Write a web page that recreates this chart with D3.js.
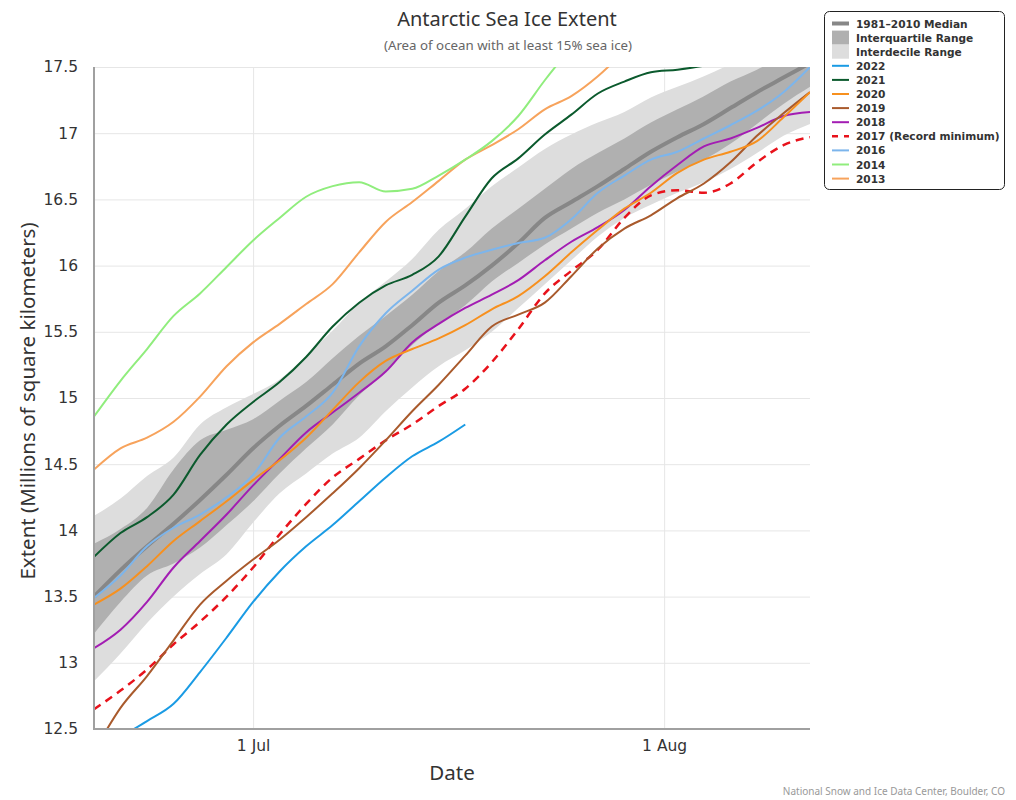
<!DOCTYPE html>
<html><head><meta charset="utf-8">
<script src="https://cdn.jsdelivr.net/npm/d3@7"></script>
<style>
body{margin:0;background:#fff;}
svg{display:block;}
</style></head>
<body>
<svg id="chart" width="1016" height="800"></svg>
<script>
// Day offsets from 19 June (every 2 days)
const dayOffsets = [0,2,4,6,8,10,12,14,16,18,20,22,24,26,28,30,32,34,36,38,40,42,44,46,48,50,52,54];
const startDate = "2022-06-19";
const yTicks = [12.5,13,13.5,14,14.5,15,15.5,16,16.5,17,17.5];
const xTickLabels = ["1 Jul","1 Aug"];
const xTickDates = ["2022-07-01","2022-08-01"];

const median = [13.50,13.70,13.88,14.05,14.23,14.42,14.62,14.79,14.94,15.10,15.26,15.39,15.55,15.72,15.85,16.00,16.17,16.36,16.48,16.60,16.73,16.86,16.97,17.07,17.19,17.31,17.42,17.53];
const iqrHigh = [13.90,14.01,14.17,14.46,14.68,14.76,14.84,14.98,15.12,15.30,15.47,15.62,15.78,15.96,16.10,16.28,16.43,16.58,16.73,16.85,16.96,17.08,17.18,17.28,17.39,17.48,17.58,17.66];
const iqrLow  = [13.22,13.46,13.66,13.75,13.87,14.04,14.22,14.43,14.62,14.80,15.02,15.20,15.40,15.56,15.70,15.88,16.02,16.16,16.28,16.40,16.50,16.61,16.71,16.80,16.92,17.07,17.22,17.35];
const idrHigh = [14.11,14.24,14.41,14.55,14.80,14.93,15.03,15.14,15.32,15.51,15.72,15.88,16.05,16.27,16.43,16.60,16.74,16.88,16.99,17.08,17.16,17.27,17.35,17.43,17.52,17.60,17.68,17.75];
const idrLow  = [12.86,13.07,13.30,13.50,13.67,13.82,14.06,14.28,14.43,14.58,14.70,14.90,15.08,15.24,15.36,15.50,15.68,15.86,16.04,16.22,16.36,16.46,16.55,16.63,16.73,16.85,16.98,17.07];

const y2022 = [null,12.44,12.56,12.69,12.93,13.19,13.46,13.69,13.88,14.04,14.22,14.40,14.56,14.67,14.80,null,null,null,null,null,null,null,null,null,null,null,null,null];
const y2021 = [13.80,13.98,14.10,14.27,14.57,14.80,14.97,15.12,15.31,15.54,15.72,15.85,15.93,16.07,16.37,16.66,16.81,16.99,17.14,17.30,17.39,17.46,17.48,17.51,17.56,null,null,null];
const y2020 = [13.44,13.56,13.73,13.92,14.07,14.22,14.38,14.53,14.70,14.91,15.12,15.28,15.37,15.45,15.55,15.67,15.77,15.92,16.10,16.27,16.43,16.55,16.70,16.80,16.86,16.94,17.12,17.31];
const y2019 = [12.33,12.66,12.90,13.17,13.44,13.62,13.78,13.93,14.10,14.28,14.47,14.68,14.90,15.10,15.32,15.54,15.63,15.72,15.92,16.13,16.28,16.38,16.51,16.62,16.78,16.98,17.15,17.31];
const y2018 = [13.11,13.25,13.46,13.72,13.92,14.12,14.34,14.54,14.74,14.89,15.04,15.20,15.42,15.56,15.68,15.78,15.89,16.04,16.18,16.29,16.42,16.60,16.76,16.90,16.96,17.04,17.13,17.16];
const y2017 = [12.65,12.79,12.95,13.14,13.31,13.50,13.72,13.97,14.20,14.40,14.54,14.68,14.80,14.94,15.07,15.27,15.52,15.79,15.96,16.12,16.36,16.53,16.57,16.55,16.62,16.78,16.91,16.97];
const y2016 = [13.49,13.66,13.88,14.02,14.12,14.25,14.42,14.70,14.86,15.04,15.39,15.64,15.81,15.97,16.06,16.12,16.17,16.21,16.35,16.55,16.68,16.80,16.86,16.96,17.06,17.17,17.31,17.50];
const y2014 = [14.86,15.13,15.37,15.62,15.79,15.99,16.19,16.36,16.52,16.60,16.63,16.56,16.58,16.68,16.80,16.94,17.13,17.40,17.65,null,null,null,null,null,null,null,null,null];
const y2013 = [14.46,14.62,14.70,14.82,15.01,15.24,15.42,15.56,15.71,15.86,16.10,16.33,16.48,16.64,16.80,16.91,17.03,17.18,17.28,17.43,17.62,null,null,null,null,null,null,null];

const seriesNames = ["2022","2021","2020","2019","2018","2017 (Record minimum)","2016","2014","2013"];
const seriesValues = [y2022,y2021,y2020,y2019,y2018,y2017,y2016,y2014,y2013];
const seriesColors = ["#1a9be4","#0b5a2d","#f7901e","#a95a2c","#a31db3","#e8121b","#7cb5ec","#90ed7d","#f7a35c"];

const svg = d3.select("#chart");
const m = {left:94, right:810, top:67, bottom:729};
const FONT = "'Noto Sans', sans-serif";
const DV = "'DejaVu Sans', sans-serif";

const t0 = d3.utcParse("%Y-%m-%d")(startDate);
const dateOf = d => d3.utcDay.offset(t0, d);
const x = d3.scaleUtc().domain([dateOf(0), dateOf(54)]).range([m.left, m.right]);
const y = d3.scaleLinear().domain([12.5,17.5]).range([m.bottom, m.top]);

svg.append("defs").append("clipPath").attr("id","plotclip")
  .append("rect").attr("x",m.left).attr("y",m.top).attr("width",m.right-m.left).attr("height",m.bottom-m.top);

// gridlines + tick labels
const yAxis = d3.axisLeft(y).tickValues(yTicks).tickSize(-(m.right-m.left)).tickFormat(d3.format("~g"));
const gy = svg.append("g").attr("transform",`translate(${m.left},0)`).call(yAxis);
gy.select(".domain").remove();
gy.selectAll(".tick line").attr("stroke","#e6e6e6").attr("stroke-width",1);
gy.selectAll(".tick text").attr("x",-16).attr("fill","#333").style("font-family",DV).style("font-size","15.5px");

const xDates = xTickDates.map(s => d3.utcParse("%Y-%m-%d")(s));
const xAxis = d3.axisBottom(x).tickValues(xDates).tickSize(-(m.bottom-m.top)).tickFormat((d,i)=>xTickLabels[i]);
const gx = svg.append("g").attr("transform",`translate(0,${m.bottom})`).call(xAxis);
gx.select(".domain").remove();
gx.selectAll(".tick line").attr("stroke","#e6e6e6").attr("stroke-width",1);
gx.selectAll(".tick text").attr("y",11).attr("fill","#333").style("font-family",DV).style("font-size","15.5px");

const plot = svg.append("g").attr("clip-path","url(#plotclip)");

const idx = dayOffsets.map((d,i)=>i);
const area = (lo, hi) => d3.area().x(i=>x(dateOf(dayOffsets[i]))).y0(i=>y(lo[i])).y1(i=>y(hi[i])).curve(d3.curveMonotoneX);
plot.append("path").datum(idx).attr("d",area(idrLow,idrHigh)).attr("fill","#dddddd");
plot.append("path").datum(idx).attr("d",area(iqrLow,iqrHigh)).attr("fill","#b0b0b0");

const line = vals => d3.line().defined(i=>vals[i]!=null).x(i=>x(dateOf(dayOffsets[i]))).y(i=>y(vals[i])).curve(d3.curveMonotoneX);
plot.append("path").datum(idx).attr("d",line(median)).attr("fill","none").attr("stroke","#878787").attr("stroke-width",4);

// draw in reverse so 2022 on top
seriesValues.map((v,k)=>k).reverse().forEach(k=>{
  const p = plot.append("path").datum(idx).attr("d",line(seriesValues[k])).attr("fill","none")
    .attr("stroke",seriesColors[k]).attr("stroke-width", k===5?2.5:2).attr("stroke-linejoin","round");
  if(k===5) p.attr("stroke-dasharray","8,6");
});

// axis lines
svg.append("line").attr("x1",m.left).attr("x2",m.left).attr("y1",m.top).attr("y2",m.bottom+1).attr("stroke","#a0a0a0").attr("stroke-width",2);
svg.append("line").attr("x1",m.left-1).attr("x2",m.right).attr("y1",m.bottom).attr("y2",m.bottom).attr("stroke","#a0a0a0").attr("stroke-width",2);

// titles
svg.append("text").attr("x",507).attr("y",26).attr("text-anchor","middle").attr("fill","#333")
  .style("font-family",FONT).style("font-size","20px").text("Antarctic Sea Ice Extent");
svg.append("text").attr("x",508).attr("y",50).attr("text-anchor","middle").attr("fill","#666")
  .style("font-family",FONT).style("font-size","13.3px").text("(Area of ocean with at least 15% sea ice)");
svg.append("text").attr("transform",`translate(35,401) rotate(-90)`).attr("text-anchor","middle").attr("fill","#333")
  .style("font-family",FONT).style("font-size","20.5px").text("Extent (Millions of square kilometers)");
svg.append("text").attr("x",452).attr("y",780).attr("text-anchor","middle").attr("fill","#333")
  .style("font-family",FONT).style("font-size","20.5px").text("Date");
svg.append("text").attr("x",1005).attr("y",795).attr("text-anchor","end").attr("fill","#999")
  .style("font-family",FONT).style("font-size","10px").text("National Snow and Ice Data Center, Boulder, CO");

// legend
const lg = svg.append("g");
lg.append("rect").attr("x",824.5).attr("y",11.5).attr("width",180).attr("height",178).attr("rx",5)
  .attr("fill","#fff").attr("stroke","#222").attr("stroke-width",1);
const legendItems = [{name:"1981\u20132010 Median",type:"median"},{name:"Interquartile Range",type:"iqr"},{name:"Interdecile Range",type:"idr"}]
  .concat(seriesNames.map((n,k)=>({name:n,type:"line",k})));
legendItems.forEach((it,i)=>{
  const cy = 23.5 + i*14.1;
  if(it.type==="median") lg.append("line").attr("x1",832).attr("x2",849).attr("y1",cy).attr("y2",cy).attr("stroke","#878787").attr("stroke-width",4);
  else if(it.type==="iqr") lg.append("rect").attr("x",832).attr("y",cy-7).attr("width",17).attr("height",14).attr("fill","#b0b0b0");
  else if(it.type==="idr") lg.append("rect").attr("x",832).attr("y",cy-7).attr("width",17).attr("height",14).attr("fill","#dddddd");
  else {
    const l = lg.append("line").attr("x1",832).attr("x2",849).attr("y1",cy).attr("y2",cy).attr("stroke",seriesColors[it.k]).attr("stroke-width",it.k===5?2.5:2);
    if(it.k===5) l.attr("stroke-dasharray","6,6");
  }
  lg.append("text").attr("x",856).attr("y",cy+4).attr("fill","#333").style("font-family",DV)
    .style("font-size","10.6px").style("font-weight","bold").text(it.name);
});
</script>
</body></html>
